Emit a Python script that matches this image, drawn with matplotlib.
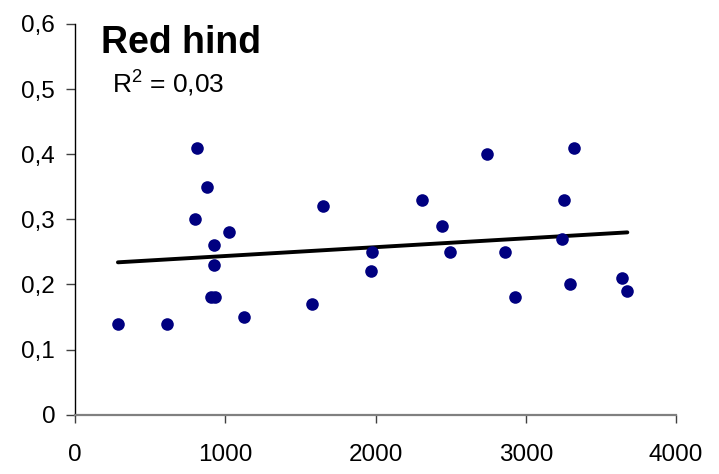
import matplotlib
matplotlib.use("Agg")
import matplotlib.pyplot as plt

plt.rcParams['font.family'] = ['Liberation Sans', 'DejaVu Sans']
plt.rcParams['mathtext.fontset'] = 'custom'
plt.rcParams['mathtext.rm'] = 'Liberation Sans'
plt.rcParams['mathtext.it'] = 'Liberation Sans'

# Data
x_vals = [284, 611, 808, 875, 795, 1021, 926, 926, 902, 932, 1125, 1574, 1651,
          1978, 1967, 2309, 2440, 2493, 2744, 2861, 2926, 3323, 3256, 3243,
          3294, 3639, 3676]
y_vals = [0.14, 0.14, 0.41, 0.35, 0.30, 0.28, 0.26, 0.23, 0.18, 0.18, 0.15, 0.17, 0.32,
          0.25, 0.22, 0.33, 0.29, 0.25, 0.40, 0.25, 0.18, 0.41, 0.33, 0.27,
          0.20, 0.21, 0.19]
trend_x = [284, 3676]
trend_y = [0.234, 0.280]

x_ticks = [0, 1000, 2000, 3000, 4000]
x_ticklabels = ['0', '1000', '2000', '3000', '4000']
y_ticks = [0, 0.1, 0.2, 0.3, 0.4, 0.5, 0.6]
y_ticklabels = ['0', '0,1', '0,2', '0,3', '0,4', '0,5', '0,6']
title_text = 'Red hind'
r2_text = 'R$^{2}$ = 0,03'

fig = plt.figure(figsize=(7.19, 4.74), dpi=100)
ax = fig.add_axes([0.1047, 0.1251, 0.9402 - 0.1047, 0.9494 - 0.1251])

ax.scatter(x_vals, y_vals, s=82, color='#000080', zorder=3, linewidths=0)
ax.plot(trend_x, trend_y, color='black', lw=2.8, solid_capstyle='round', zorder=2)

ax.set_xlim(0, 4000)
ax.set_ylim(0, 0.6)
ax.set_xticks(x_ticks)
ax.set_xticklabels(x_ticklabels)
ax.set_yticks(y_ticks)
ax.set_yticklabels(y_ticklabels)

for s in ['top', 'right']:
    ax.spines[s].set_visible(False)
ax.spines['left'].set_color('black')
ax.spines['left'].set_linewidth(1.0)
ax.spines['bottom'].set_color('#808080')
ax.spines['bottom'].set_linewidth(1.6)

ax.tick_params(axis='y', direction='out', length=6.5, width=1, color='#404040',
               labelsize=17.5, pad=8)
ax.tick_params(axis='x', direction='out', length=6, width=1, color='#404040',
               labelsize=17.5, pad=15)

fig.text(101 / 719, 1 - 53 / 474, title_text, fontsize=27, fontweight='bold',
         ha='left', va='baseline')
fig.text(112 / 719, 1 - 93 / 474, r2_text, fontsize=19, ha='left', va='baseline')

fig.savefig('out.png', dpi=100)
